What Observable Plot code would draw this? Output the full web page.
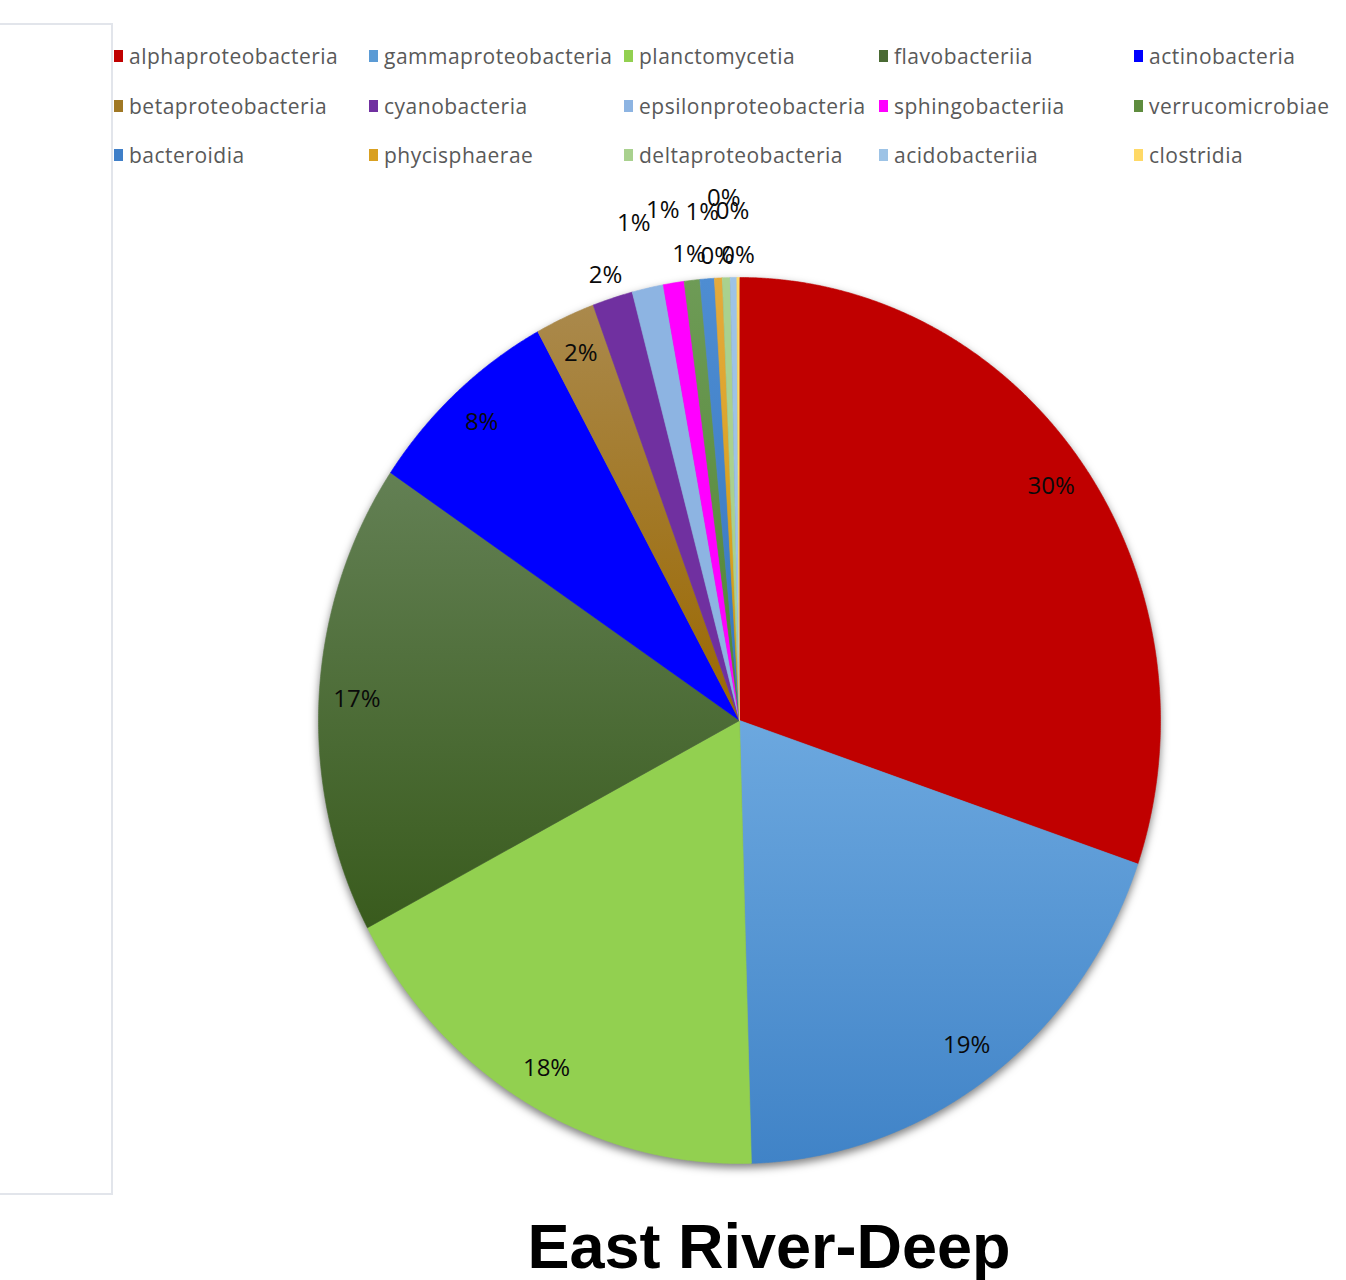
<!DOCTYPE html>
<html>
<head>
<meta charset="utf-8">
<script src="https://cdn.jsdelivr.net/npm/d3@7"></script>
<script src="https://cdn.jsdelivr.net/npm/@observablehq/plot@0.6"></script>
<style>
  body { margin: 0; background: #fff; }
  #page { position: relative; width: 1346px; height: 1280px; overflow: hidden; font-family: "Open Sans", sans-serif; }
  #frame { position: absolute; left: -4px; top: 23px; width: 113px; height: 1168px; border: 2px solid #e2e5eb; }
  #chart { position: absolute; left: 0; top: 0; }
  #legend { position: absolute; left: 0; top: 0; }
  .item { position: absolute; display: flex; align-items: center; font-size: 21px; letter-spacing: 0.5px; color: #595959; white-space: nowrap; line-height: 24px; }
  .sw { width: 9px; height: 12px; margin-right: 6px; flex: none; }
  #title { position: absolute; left: 769px; top: 1215px; transform: translateX(-50%); font-family: "Liberation Sans", Arial, sans-serif; font-weight: bold; font-size: 63px; line-height: 63px; color: #000; white-space: nowrap; }
</style>
</head>
<body>
<div id="page">
  <div id="frame"></div>
  <div id="chart"></div>
  <div id="legend"></div>
  <div id="title">East River-Deep</div>
</div>
<script>
// Bacterial classes, in slice order (clockwise from 12 o'clock)
const classes = [
  "alphaproteobacteria", "gammaproteobacteria", "planctomycetia", "flavobacteriia", "actinobacteria",
  "betaproteobacteria", "cyanobacteria", "epsilonproteobacteria", "sphingobacteriia", "verrucomicrobiae",
  "bacteroidia", "phycisphaerae", "deltaproteobacteria", "acidobacteriia", "clostridia"
];
// Relative abundance (%)
const abundance = [30.25, 19.3, 17.7, 17.2, 7.6, 2.3, 1.55, 1.2, 0.8, 0.6, 0.55, 0.3, 0.3, 0.25, 0.1];

// Slice colours
const palette = [
  "#c00000", "#5b9bd5", "#92d050", "#4a6a33", "#0000ff",
  "#a07824", "#7030a0", "#8db4e2", "#ff00ff", "#5e8c3e",
  "#3f7fc8", "#d9a021", "#a9d18e", "#9dc3e6", "#ffd966"
];
// Vertical shading (top, bottom) for the shaded slices
const shading = {
  gammaproteobacteria: ["#6ca8df", "#4083c7"],
  flavobacteriia: ["#638054", "#395b1d"],
  betaproteobacteria: ["#aa894c", "#9b6800"],
  verrucomicrobiae: ["#6e9b56", "#4f8434"],
  bacteroidia: ["#4e8dd2", "#3676c0"],
  phycisphaerae: ["#e4aa3c", "#cf9a0e"]
};
// Radial distance of the callout labels for the thin slices (in pie radii)
const calloutRadius = [1.055, 1.15, 1.165, 1.06, 1.15, 1.05, 1.18, 1.15, 1.05];

const total = d3.sum(abundance);
const paintOf = (name, i) => shading[name] ? `url(#shade-${i})` : palette[i];

const arcs = d3.pie().sort(null).value(i => abundance[i])(d3.range(classes.length));

// Outline of each slice: centre, then along the rim
const outline = [];
for (const a of arcs) {
  const i = a.data, name = classes[i];
  const steps = Math.max(2, Math.ceil((a.endAngle - a.startAngle) / 0.004));
  outline.push({name, paint: paintOf(name, i), x: 0, y: 0});
  for (let k = 0; k <= steps; k++) {
    const t = a.startAngle + (a.endAngle - a.startAngle) * k / steps;
    outline.push({name, paint: paintOf(name, i), x: Math.sin(t), y: Math.cos(t)});
  }
}

// Percentage labels: inside for the wide slices, callouts for the thin ones
const labels = [];
let callout = 0;
for (const a of arcs) {
  const i = a.data, share = abundance[i] / total * 100;
  const mid = (a.startAngle + a.endAngle) / 2;
  const r = share >= 2 ? 0.91 : calloutRadius[callout++];
  labels.push({text: Math.round(share) + "%", x: r * Math.sin(mid), y: r * Math.cos(mid)});
}

const chart = Plot.plot({
  width: 1346,
  height: 1205,
  margin: 0,
  x: {domain: [-1, 1], range: [318, 1160], axis: null},
  y: {domain: [-1, 1], range: [1163, 277], axis: null},
  color: {type: "identity"},
  style: {background: "transparent", fontFamily: "Open Sans, sans-serif"},
  marks: [
    Plot.line(outline, {x: "x", y: "y", z: "name", fill: "paint", stroke: "paint", strokeWidth: 0.6, curve: "linear"}),
    Plot.text(labels, {x: "x", y: "y", text: "text", fontSize: 24, fill: "#0a0a0a"})
  ]
});

// Gradient definitions used by the shaded slices
const defs = d3.select(chart).insert("defs", ":first-child");
classes.forEach((name, i) => {
  if (!shading[name]) return;
  const g = defs.append("linearGradient").attr("id", `shade-${i}`)
    .attr("x1", 0).attr("y1", 0).attr("x2", 0).attr("y2", 1);
  g.append("stop").attr("offset", 0).attr("stop-color", shading[name][0]);
  g.append("stop").attr("offset", 1).attr("stop-color", shading[name][1]);
});
// Soft shadow under the pie
const pieGroup = chart.querySelector('g[aria-label="line"]');
if (pieGroup) pieGroup.style.filter = "drop-shadow(0px 4px 4px rgba(0,0,0,0.5))";

document.getElementById("chart").appendChild(chart);

// Legend: five columns, three rows
const legend = d3.select("#legend");
classes.forEach((name, i) => {
  const col = i % 5, row = Math.floor(i / 5);
  const item = legend.append("div").attr("class", "item")
    .style("left", (114 + col * 255) + "px")
    .style("top", (44 + row * 49.5) + "px");
  item.append("div").attr("class", "sw").style("background", palette[i]);
  item.append("span").text(name);
});
</script>
</body>
</html>
